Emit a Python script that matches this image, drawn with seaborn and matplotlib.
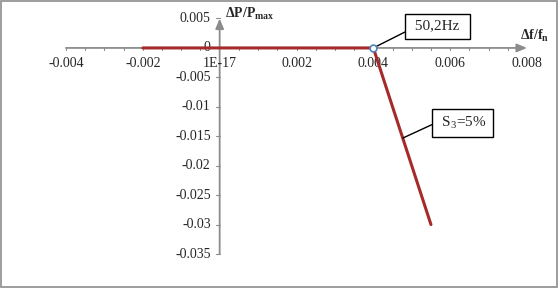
import matplotlib
matplotlib.use("Agg")
import matplotlib.pyplot as plt
import seaborn as sns
import pandas as pd
import numpy as np
from matplotlib.patches import Rectangle

# data
df_x = [-0.002, 0.004, 0.0055]
dp_y = [0.0, 0.0, -0.03]
x_ticks = [-0.004, -0.002, 0.0, 0.002, 0.004, 0.006, 0.008]
x_tick_labels = ["-0.004", "-0.002", "1E-17", "0.002", "0.004", "0.006", "0.008"]
y_ticks = [0.005, 0.0, -0.005, -0.01, -0.015, -0.02, -0.025, -0.03, -0.035]
y_tick_labels = ["0.005", "0", "-0.005", "-0.01", "-0.015", "-0.02", "-0.025", "-0.03", "-0.035"]
marker_x = [0.004]
marker_y = [0.0]

sns.set_style("white")
plt.rcParams["font.family"] = ["Liberation Serif", "DejaVu Serif"]
plt.rcParams["mathtext.fontset"] = "custom"
plt.rcParams["mathtext.rm"] = "Liberation Serif"
plt.rcParams["mathtext.bf"] = "Liberation Serif:bold"
plt.rcParams["mathtext.it"] = "Liberation Serif:italic"

fig = plt.figure(figsize=(5.59, 2.88), dpi=100)
ax = fig.add_axes([66/559, 1-254/288, (527-66)/559, (254-18.5)/288])
ax.set_xlim(-0.004, 0.008)
ax.set_ylim(-0.035, 0.005)
for s in ax.spines.values():
    s.set_visible(False)
ax.set_xticks([])
ax.set_yticks([])

axcol = "#8c8c8c"
ax.annotate("", xy=(0.008, 0), xytext=(-0.004, 0),
            arrowprops=dict(arrowstyle="-|>,head_length=0.6,head_width=0.25", color=axcol, lw=1.3,
                            shrinkA=0, shrinkB=0), annotation_clip=False)
ax.annotate("", xy=(0, 0.005), xytext=(0, -0.035),
            arrowprops=dict(arrowstyle="-|>,head_length=0.6,head_width=0.25", color=axcol, lw=1.3,
                            shrinkA=0, shrinkB=0), annotation_clip=False)

xs_per_px = 0.012 / 461
ys_per_px = 0.04 / 235.5
minor = np.arange(-0.004, 0.0076, 0.0005)
for m in minor:
    if abs(m) < 1e-9:
        continue
    ax.plot([m, m], [-2.5*ys_per_px, 0], color=axcol, lw=0.8, clip_on=False, zorder=1)
for yt in y_ticks:
    if abs(yt) < 1e-9:
        continue
    ax.plot([-4*xs_per_px, 0], [yt, yt], color=axcol, lw=0.8, clip_on=False, zorder=1)

for xt, lab in zip(x_ticks, x_tick_labels):
    ax.text(xt, -16*ys_per_px, lab, ha="center", va="center", fontsize=10)
for yt, lab in zip(y_ticks, y_tick_labels):
    ax.text(-9*xs_per_px, yt, lab, ha="right", va="center", fontsize=10)

data = pd.DataFrame({"df": df_x, "dp": dp_y})
sns.lineplot(data=data, x="df", y="dp", ax=ax, color="#a52a2a", lw=2.2, sort=False, zorder=3)
ax.set_xlabel("")
ax.set_ylabel("")
sns.scatterplot(x=marker_x, y=marker_y, ax=ax, marker="o", s=24, facecolor="white",
                edgecolor="#4f81bd", linewidth=1.2, zorder=4)

ax.text(0.00015, 0.0058, r"$\mathbf{\Delta P/P_{max}}$", ha="left", va="center", fontsize=10)
ax.text(0.0082, 0.0021, r"$\mathbf{\Delta f/f_n}$", ha="center", va="center", fontsize=10)

bbox = dict(boxstyle="square,pad=0.4", fc="white", ec="black", lw=1.0)
ax.annotate(" 50,2Hz ", xy=(0.004, 0), xytext=(0.00567, 0.0037), ha="center", va="center",
            fontsize=11, bbox=bbox,
            arrowprops=dict(arrowstyle="-", color="black", lw=1.0, shrinkA=0, shrinkB=0,
                            relpos=(0, 0.3)))
ax.annotate(r" S$_3$=5% ", xy=(0.00477, -0.0153), xytext=(0.00633, -0.0128), ha="center", va="center",
            fontsize=11, bbox=bbox,
            arrowprops=dict(arrowstyle="-", color="black", lw=1.0, shrinkA=0, shrinkB=0,
                            relpos=(0, 0.6)))

fig.patches.append(Rectangle((0.001, 0.002), 0.996, 0.995, transform=fig.transFigure,
                             fill=False, ec="#8c8c8c", lw=1.2))
fig.savefig("out.png", dpi=100)
